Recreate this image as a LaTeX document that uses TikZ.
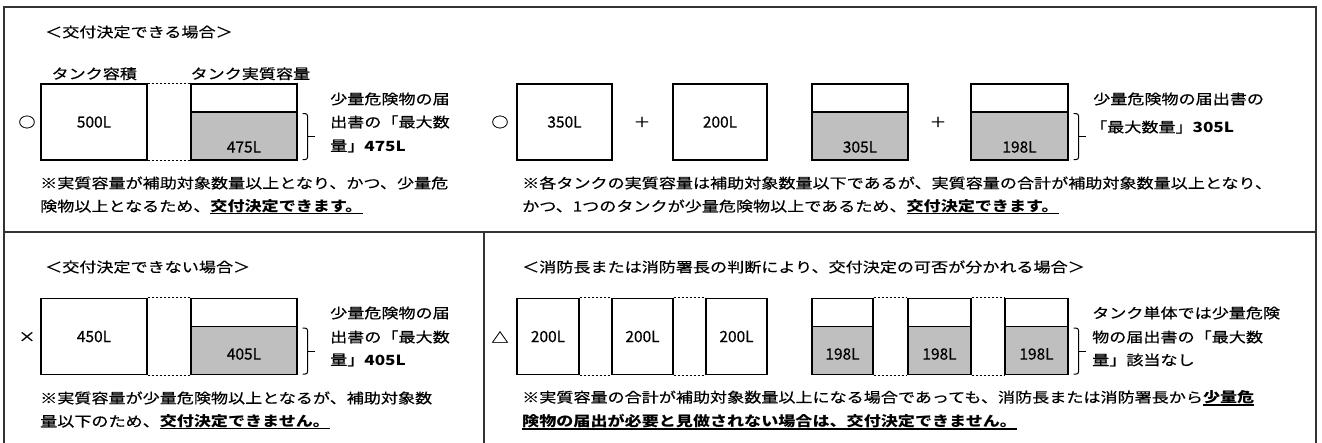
\documentclass[tikz,border=0pt]{standalone}
\usepackage{fontspec}
\setmainfont[FakeStretch=1.22, UprightFeatures={FakeBold=0.5}]{Noto Sans CJK JP}
\newfontfamily\numfont[FakeBold=0.4]{Noto Sans CJK JP}
\usetikzlibrary{positioning, calc}

\newcommand{\ulbold}[1]{\setbox0=\hbox{\bfseries #1}\rlap{\rule[-3pt]{\wd0}{1.3pt}}\box0}

\begin{document}
\begin{tikzpicture}[x=1pt,y=-1pt,
  every node/.style={font=\fontsize{14}{16}\selectfont, inner sep=0pt},
  txt/.style={anchor=west},
  frame/.style={line width=1.3pt, black!80},
  tank/.style={draw, line width=1.2pt, minimum width=#1, minimum height=76pt, font=\numfont\fontsize{15.5}{17}\selectfont},
  halftank/.style={tank=#1, path picture={
    \fill[black!25] (path picture bounding box.south west) rectangle ([yshift=48pt]path picture bounding box.south east);
    \draw[line width=1.2pt] ([yshift=48pt]path picture bounding box.south west) -- ([yshift=48pt]path picture bounding box.south east);}},
  vol/.style={font=\numfont\fontsize{15.5}{17}\selectfont},
  dotline/.style={line width=1.2pt, dash pattern=on 2pt off 2pt},
  bracket/.pic={\draw[line width=1pt, rounded corners=2.5pt] (0,0) -- (5,0) -- (5,46) -- (0,46);
    \draw[line width=1pt] (5,23) -- (12,23);}
]
\useasboundingbox (0,0) rectangle (1322,443);

% frame
\draw[frame] (4,443) |- (1316,7) -- (1316,443);
\draw[frame] (4,232) -- (1316,232);
\draw[frame] (484,232) -- (484,443);

% top left
\node[txt] (ti1) at (45,32) {＜交付決定できる場合＞};
\node[tank=106pt] (a1) at (94,122) {500L};
\node[halftank=106pt] (a2) at (244,122) {};
\node[vol] (va2) at (244,147) {475L};
\node[anchor=south west] (la1) at ([xshift=11pt,yshift=3pt]a1.north west) {タンク容積};
\node[anchor=south west] (la2) at ([yshift=3pt]a2.north west) {タンク実質容量};
\node (mk1) at (27,122) {○};
\draw[dotline] (a1.north east) -- (a1.north east -| a2.west);
\draw[dotline] (a1.south east) -- (a1.south east -| a2.west);
\pic at ([xshift=5pt,yshift=47pt]a2.south east) {bracket};
\node[txt] (ra1) at (330,99) {少量危険物の届};
\node[txt] (ra2) at (330,122) {出書の「最大数};
\node[txt] (ra3) at (330,146) {量」\textbf{475L}};
\node[txt] (na1) at (40,183) {※実質容量が補助対象数量以上となり、かつ、少量危};
\node[txt] (na2) at (40,207) {険物以上となるため、\ulbold{交付決定できます。}};

% top right
\node (mk2) at (500,122) {○};
\node[tank=95pt] (b1) at (564.5,122) {350L};
\node (pl1) at (642,122) {＋};
\node[tank=94pt] (b2) at (720,122) {200L};
\node[halftank=96pt] (b3) at (860,122) {};
\node[vol] (vb3) at (860,147) {305L};
\node (pl2) at (938,122) {＋};
\node[halftank=97pt] (b4) at (1019.5,122) {};
\node[vol] (vb4) at (1019.5,147) {198L};
\pic at ([xshift=5pt,yshift=47pt]b4.south east) {bracket};
\node[txt] (rb1) at (1093,99) {少量危険物の届出書の};
\node[txt] (rb2) at (1090,127) {「最大数量」\textbf{305L}};
\node[txt] (nb1) at (522,183) {※各タンクの実質容量は補助対象数量以下であるが、実質容量の合計が補助対象数量以上となり、};
\node[txt] (nb2) at (522,207) {かつ、1つのタンクが少量危険物以上であるため、\ulbold{交付決定できます。}};

% bottom left
\node[txt] (ti2) at (45,267) {＜交付決定できない場合＞};
\node (mk3) at (27,337) {×};
\node[tank=106pt] (c1) at (94,336.5) {450L};
\node[halftank=106pt] (c2) at (244,336.5) {};
\node[vol] (vc2) at (244,354) {405L};
\draw[dotline] (c1.north east) -- (c1.north east -| c2.west);
\draw[dotline] (c1.south east) -- (c1.south east -| c2.west);
\pic at ([xshift=5pt,yshift=47pt]c2.south east) {bracket};
\node[txt] (rc1) at (330,313) {少量危険物の届};
\node[txt] (rc2) at (330,337) {出書の「最大数};
\node[txt] (rc3) at (330,360) {量」\textbf{405L}};
\node[txt] (nc1) at (40,398) {※実質容量が少量危険物以上となるが、補助対象数};
\node[txt] (nc2) at (40,422) {量以下のため、\ulbold{交付決定できません。}};

% bottom right
\node[txt] (ti3) at (522,267) {＜消防長または消防署長の判断により、交付決定の可否が分かれる場合＞};
\node (mk4) at (500,337) {△};
\node[tank=62pt] (d1) at (548,336.5) {200L};
\node[tank=61pt] (d2) at (642.5,336.5) {200L};
\node[tank=61pt] (d3) at (736.5,336.5) {200L};
\node[halftank=61pt] (d4) at (842.5,336.5) {};
\node[halftank=63pt] (d5) at (939.5,336.5) {};
\node[halftank=63pt] (d6) at (1036.5,336.5) {};
\node[vol] (vd4) at (842.5,354) {198L};
\node[vol] (vd5) at (939.5,354) {198L};
\node[vol] (vd6) at (1036.5,354) {198L};
\foreach \p/\q in {d1/d2, d2/d3, d4/d5, d5/d6} {
  \draw[dotline] (\p.north east) -- (\p.north east -| \q.west);
  \draw[dotline] (\p.south east) -- (\p.south east -| \q.west);
}
\pic at ([xshift=5pt,yshift=47pt]d6.south east) {bracket};
\node[txt] (rd1) at (1092,313) {タンク単体では少量危険};
\node[txt] (rd2) at (1092,337) {物の届出書の「最大数};
\node[txt] (rd3) at (1092,360) {量」該当なし};
\node[txt] (nd1) at (522,398) {※実質容量の合計が補助対象数量以上になる場合であっても、消防長または消防署長から\ulbold{少量危}};
\node[txt] (nd2) at (522,422) {\ulbold{険物の届出が必要と見做されない場合は、交付決定できません。}};
\end{tikzpicture}
\end{document}
